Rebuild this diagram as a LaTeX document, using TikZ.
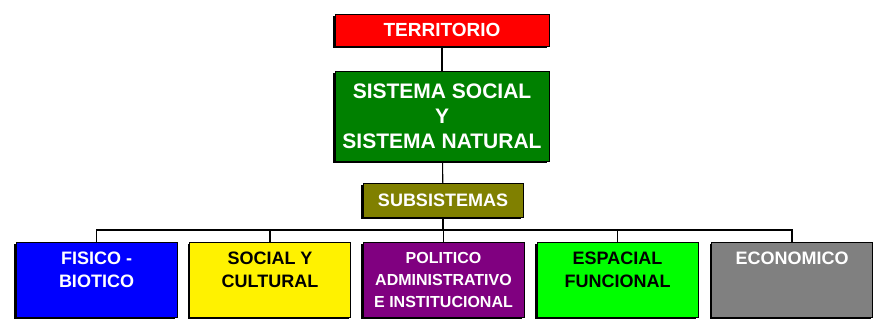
\documentclass[tikz,border=0pt]{standalone}
\usepackage{fontspec}
\setmainfont{Liberation Sans}
\usetikzlibrary{shadows}

\begin{document}
\begin{tikzpicture}[x=1pt,y=-1pt,
    box/.style ={rectangle, draw=black, thin, inner sep=0pt,
      drop shadow={shadow xshift=-2pt, shadow yshift=-2pt, fill=black, opacity=1}},
    lower/.style ={box, minimum width=161pt, minimum height=75pt},
    caption/.style ={anchor=north, align=center, inner sep=0pt, font=\bfseries\fontsize{18}{23}\selectfont},
    link/.style ={draw, line width=1.1pt}]
   \useasboundingbox (0,0) rectangle (874,327);
   % top of the tree
   \node[box, fill=red, text=white, minimum width=214pt, minimum height=32pt,
     font=\bfseries\fontsize{19}{23}\selectfont] (terr) at (442,30) {TERRITORIO};
   \node[box, fill={rgb,255:red,0;green,128;blue,0}, text=white, minimum width=214pt, minimum height=90pt,
     align=center, font=\bfseries\fontsize{21}{25}\selectfont] (sist) at (442,116)
     {SISTEMA SOCIAL\\Y\\SISTEMA NATURAL};
   \node[box, fill={rgb,255:red,128;green,128;blue,0}, text=white, minimum width=160pt, minimum height=34pt,
     font=\bfseries\fontsize{18}{22}\selectfont] (sub) at (443,200) {SUBSISTEMAS};
   \coordinate (bus) at (443,230);
   % subsystems
   \node[lower, fill=blue] (fis) at (96.5,279.5) {};
   \node[lower, fill=yellow] (soc) at (270,279.5) {};
   \node[lower, fill={rgb,255:red,128;green,0;blue,128}] (pol) at (443.5,279.5) {};
   \node[lower, fill={rgb,255:red,0;green,255;blue,0}] (esp) at (617.5,279.5) {};
   \node[lower, fill={rgb,255:red,128;green,128;blue,128}] (eco) at (792,279.5) {};
   \node[caption, text=white] (fist) at ([yshift=-10pt]fis.north) {FISICO -\\BIOTICO};
   \node[caption, text=black] (soct) at ([yshift=-10pt]soc.north) {SOCIAL Y\\CULTURAL};
   \node[caption, text=white, font=\bfseries\fontsize{16}{22}\selectfont] (polt) at ([yshift=-10pt]pol.north)
     {POLITICO\\ADMINISTRATIVO\\E INSTITUCIONAL};
   \node[caption, text=black] (espt) at ([yshift=-10pt]esp.north) {ESPACIAL\\FUNCIONAL};
   \node[caption, text=white] (ecot) at ([yshift=-10pt]eco.north) {ECONOMICO};
   % connectors
   \draw[link] (terr) -- (sist);
   \draw[link] (sist) -- (sub);
   \draw[link] (sub) -- (bus);
   \draw[link] (fis.north) |- (bus) -| (eco.north);
   \draw[link] (soc.north) -- (soc.north |- bus);
   \draw[link] (pol.north) -- (pol.north |- bus);
   \draw[link] (esp.north) -- (esp.north |- bus);
 \end{tikzpicture}
\end{document}
